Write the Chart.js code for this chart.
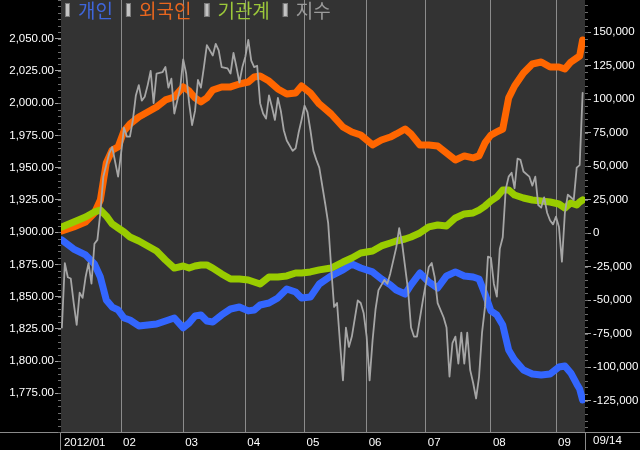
<!DOCTYPE html>
<html>
<head>
<meta charset="utf-8">
<script src="https://cdn.jsdelivr.net/npm/chart.js@4/dist/chart.umd.min.js"></script>
<style>
  html, body { margin: 0; padding: 0; background: #000; }
  canvas { display: block; }
</style>
</head>
<body>
<canvas id="chart1" width="640" height="450"></canvas>
<script>
// trading-day index (0 = 2012/01/02) and month start labels
const monthStarts = [0, 20, 41, 62, 82, 103, 123, 145, 167];
const monthLabels = ['2012/01', '02', '03', '04', '05', '06', '07', '08', '09'];
const lastDateLabel = '09/14';

// left axis (KOSPI) and right axis (cumulative net buying) tick values
const indexTicks = [2050, 2025, 2000, 1975, 1950, 1925, 1900, 1875, 1850, 1825, 1800, 1775];
const flowTicks = [150000, 125000, 100000, 75000, 50000, 25000, 0, -25000, -50000, -75000, -100000, -125000];

const seriesNames = ['개인', '외국인', '기관계', '지수'];

// cumulative net buying, sampled on these trading days
const flowDays = [0, 4, 8, 11, 13, 15, 17, 19, 21, 23,
    26, 29, 32, 35, 38, 41, 43, 45, 47, 49,
    51, 54, 57, 60, 63, 65, 67, 70, 73, 76,
    79, 81, 84, 87, 91, 95, 98, 101, 105, 108,
    111, 113, 116, 118, 121, 124, 127, 130, 133, 136,
    139, 141, 143, 145, 147, 149, 151, 153, 156, 159,
    162, 165, 168, 170, 172, 174, 175, 176];

const individualNet = [-5000, -11800, -16200, -23000, -32700, -49800, -55100, -57300, -63300, -64800,
    -69200, -68500, -67800, -65500, -63300, -70700, -67000, -61800, -61000, -65500,
    -66300, -61000, -56600, -55100, -58000, -57300, -53600, -52100, -48300, -41600,
    -43900, -48300, -47600, -37900, -31900, -27400, -23000, -26000, -28900, -34200,
    -38600, -42400, -45400, -38600, -29700, -36400, -40900, -31900, -28900, -31900,
    -32700, -34200, -45400, -58000, -61000, -68500, -87200, -94600, -102100, -105100,
    -105800, -105100, -99900, -99100, -104300, -112500, -116300, -124500];

const foreignNet = [1700, 4700, 8400, 15100, 24800, 52400, 62100, 64400, 76300, 81500,
    86800, 90500, 94200, 99500, 101700, 109200, 106200, 101000, 98000, 101000,
    106900, 109200, 109200, 111400, 112900, 116600, 117400, 113600, 107700, 103900,
    104700, 109900, 104700, 96500, 89000, 79300, 75600, 73300, 65900, 69600,
    71800, 74100, 77800, 74100, 65900, 65900, 65100, 59900, 54700, 57700,
    56200, 57700, 67400, 73300, 75600, 77800, 101000, 109900, 119600, 126300,
    127800, 124100, 124100, 122600, 127800, 130800, 132300, 144300];

const institutionNet = [4700, 8400, 12100, 15900, 17300, 12900, 6900, 3900, 900, -2800,
    -5800, -9500, -13300, -20000, -26000, -24500, -26000, -24500, -23700, -23700,
    -26000, -30400, -34200, -34200, -34900, -36400, -37900, -32700, -32700, -31900,
    -29700, -29700, -28900, -27400, -26000, -21500, -18500, -14800, -13300, -9500,
    -7300, -5800, -4300, -2800, 200, 4700, 6100, 5400, 11400, 14400,
    15100, 17300, 20300, 24100, 27100, 32300, 32300, 28500, 26300, 24800,
    24100, 23300, 21800, 18800, 22600, 21100, 23300, 24800];

// KOSPI close as [trading day, close]
const kospiCloses = [[0, 1826], [1, 1876], [2, 1865], [3, 1864], [4, 1845], [5, 1828], [6, 1853], [7, 1849], [8, 1865], [9, 1876],
    [10, 1860], [11, 1891], [12, 1894], [13, 1915], [14, 1943], [15, 1952], [16, 1961], [17, 1966], [19, 1943], [20, 1961],
    [21, 1981], [22, 1974], [23, 1974], [24, 1987], [25, 2006], [26, 2014], [27, 2002], [28, 2005], [29, 2014], [30, 2025],
    [31, 2000], [32, 2023], [34, 2024], [35, 2028], [36, 2012], [37, 2019], [38, 1992], [40, 2012], [41, 2034], [42, 2023],
    [43, 2000], [44, 1983], [45, 1994], [46, 2018], [47, 2012], [48, 2028], [49, 2045], [51, 2037], [52, 2046], [53, 2041],
    [54, 2028], [56, 2027], [57, 2023], [58, 2039], [59, 2028], [60, 2016], [61, 2028], [62, 2036], [63, 2049], [64, 2033],
    [65, 2028], [66, 2029], [67, 2000], [68, 1992], [69, 1988], [70, 2006], [71, 1997], [72, 1987], [73, 2004], [74, 1994],
    [75, 1979], [76, 1971], [78, 1963], [79, 1965], [80, 1977], [81, 1987], [82, 1998], [83, 1993], [84, 1979], [85, 1963],
    [86, 1956], [87, 1950], [89, 1922], [90, 1907], [91, 1873], [92, 1842], [93, 1845], [94, 1814], [95, 1785], [96, 1826],
    [97, 1811], [98, 1819], [100, 1847], [101, 1845], [102, 1837], [103, 1819], [104, 1785], [105, 1816], [106, 1840], [107, 1855],
    [109, 1863], [110, 1860], [111, 1868], [113, 1888], [114, 1903], [115, 1891], [116, 1873], [117, 1855], [118, 1826], [119, 1819],
    [120, 1819], [122, 1847], [123, 1860], [124, 1873], [125, 1876], [126, 1865], [127, 1845], [129, 1834], [130, 1826], [131, 1788],
    [132, 1814], [133, 1819], [134, 1798], [135, 1822], [136, 1798], [137, 1822], [138, 1793], [139, 1783], [140, 1771], [141, 1788],
    [142, 1822], [143, 1842], [144, 1881], [145, 1880], [146, 1860], [147, 1850], [148, 1887], [149, 1896], [150, 1933], [151, 1943],
    [152, 1946], [153, 1934], [154, 1957], [155, 1956], [156, 1947], [158, 1943], [159, 1936], [160, 1943], [161, 1921], [162, 1919],
    [163, 1927], [164, 1915], [165, 1909], [166, 1906], [167, 1912], [168, 1904], [169, 1877], [170, 1915], [171, 1929], [172, 1927],
    [173, 1925], [174, 1950], [175, 1952], [176, 2008]];

const TICK_FONT = { family: 'Liberation Sans', size: 11.5 };
const legendColors = ['#3f66dc', '#e8661e', '#9cc83a', '#9a9a9a'];

// paint black frame + dark plot area, bottom strip lines, minor ticks, legend
const chartDecor = {
    id: 'chartDecor',
    beforeDraw(chart) {
        const { ctx, chartArea: a } = chart;
        ctx.save();
        ctx.fillStyle = '#000';
        ctx.fillRect(0, 0, chart.width, chart.height);
        ctx.fillStyle = '#333333';
        ctx.fillRect(a.left, a.top, a.right - a.left, a.bottom - a.top);
        ctx.restore();
    },
    afterDraw(chart) {
        const { ctx, chartArea: a } = chart;
        ctx.save();
        ctx.strokeStyle = '#8a8a8a';
        ctx.lineWidth = 1;
        ctx.beginPath();
        ctx.moveTo(0, a.bottom + 0.5);
        ctx.lineTo(chart.width, a.bottom + 0.5);
        ctx.moveTo(a.left - 0.5, a.bottom);
        ctx.lineTo(a.left - 0.5, chart.height);
        ctx.moveTo(a.right + 0.5, a.bottom);
        ctx.lineTo(a.right + 0.5, chart.height);
        ctx.stroke();

        // minor ticks
        ctx.strokeStyle = '#6e6e6e';
        [['yIndex', 5, -1], ['yFlow', 5000, 1]].forEach(([id, step, dir]) => {
            const s = chart.scales[id];
            const edge = dir < 0 ? a.left : a.right;
            ctx.beginPath();
            for (let v = Math.ceil(s.min / step) * step; v <= s.max; v += step) {
                const y = Math.round(s.getPixelForValue(v)) + 0.5;
                ctx.moveTo(edge, y);
                ctx.lineTo(edge + dir * 3, y);
            }
            ctx.stroke();
        });

        // last date in the right column
        ctx.fillStyle = '#fff';
        ctx.font = '11.5px "Liberation Sans"';
        ctx.textBaseline = 'middle';
        ctx.fillText(lastDateLabel, a.right + 8, a.bottom + 9);

        // legend
        ctx.font = '19px "Noto Sans CJK KR"';
        let x = a.left + 4;
        seriesNames.forEach((name, i) => {
            ctx.fillStyle = '#c4c4c4';
            ctx.fillRect(x, 3, 5, 14);
            ctx.strokeStyle = '#7a7a7a';
            ctx.strokeRect(x + 0.5, 3.5, 4, 13);
            ctx.fillStyle = legendColors[i];
            ctx.fillText(name, x + 13, 11);
            x += 13 + ctx.measureText(name).width + 13;
        });
        ctx.restore();
    }
};

function fixTicks(values) {
    return scale => { scale.ticks = values.map(v => ({ value: v })); };
}

new Chart(document.getElementById('chart1'), {
    type: 'line',
    data: {
        datasets: [
            {
                label: seriesNames[3],
                data: kospiCloses.map(([d, v]) => ({ x: d, y: v })),
                yAxisID: 'yIndex',
                borderColor: '#a6a6a6',
                borderWidth: 1.8,
                order: 0
            },
            {
                label: seriesNames[2],
                data: flowDays.map((d, i) => ({ x: d, y: institutionNet[i] })),
                yAxisID: 'yFlow',
                borderColor: '#99cc00',
                borderWidth: 7,
                order: 1
            },
            {
                label: seriesNames[1],
                data: flowDays.map((d, i) => ({ x: d, y: foreignNet[i] })),
                yAxisID: 'yFlow',
                borderColor: '#ff6600',
                borderWidth: 7,
                order: 2
            },
            {
                label: seriesNames[0],
                data: flowDays.map((d, i) => ({ x: d, y: individualNet[i] })),
                yAxisID: 'yFlow',
                borderColor: '#3366ff',
                borderWidth: 7,
                order: 3
            }
        ]
    },
    options: {
        responsive: false,
        animation: false,
        devicePixelRatio: 1,
        layout: { padding: 0 },
        elements: {
            point: { radius: 0 },
            line: { tension: 0, borderJoinStyle: 'round', borderCapStyle: 'round' }
        },
        plugins: {
            legend: { display: false },
            tooltip: { enabled: false }
        },
        scales: {
            x: {
                type: 'linear',
                position: 'bottom',
                min: -0.3,
                max: 176.8,
                afterBuildTicks: fixTicks(monthStarts),
                afterFit: s => { s.height = 18; s.paddingLeft = 0; s.paddingRight = 0; },
                border: { display: false },
                grid: {
                    drawTicks: false,
                    color: c => c.index === 0 ? 'rgba(0,0,0,0)' : '#8c8c8c',
                    lineWidth: 1
                },
                ticks: {
                    autoSkip: false,
                    maxRotation: 0,
                    align: 'start',
                    labelOffset: 2,
                    padding: 4,
                    color: '#fff',
                    font: TICK_FONT,
                    callback: (v, i) => monthLabels[i]
                }
            },
            yIndex: {
                type: 'linear',
                position: 'left',
                min: 1745,
                max: 2080,
                afterBuildTicks: fixTicks(indexTicks),
                afterFit: s => { s.width = 61; s.paddingTop = 0; s.paddingBottom = 0; },
                border: { display: false },
                grid: { drawOnChartArea: false, tickLength: 6, color: '#a0a0a0' },
                ticks: {
                    autoSkip: false,
                    padding: 1,
                    color: '#fff',
                    font: TICK_FONT,
                    callback: v => v.toLocaleString('en-US', { minimumFractionDigits: 2, maximumFractionDigits: 2 })
                }
            },
            yFlow: {
                type: 'linear',
                position: 'right',
                min: -148400,
                max: 174100,
                afterBuildTicks: fixTicks(flowTicks),
                afterFit: s => { s.width = 55; s.paddingTop = 0; s.paddingBottom = 0; },
                border: { display: false },
                grid: { drawOnChartArea: false, tickLength: 6, color: '#a0a0a0' },
                ticks: {
                    autoSkip: false,
                    padding: 2,
                    color: '#fff',
                    font: TICK_FONT,
                    callback: v => v.toLocaleString('en-US')
                }
            }
        }
    },
    plugins: [chartDecor]
});
</script>
</body>
</html>
